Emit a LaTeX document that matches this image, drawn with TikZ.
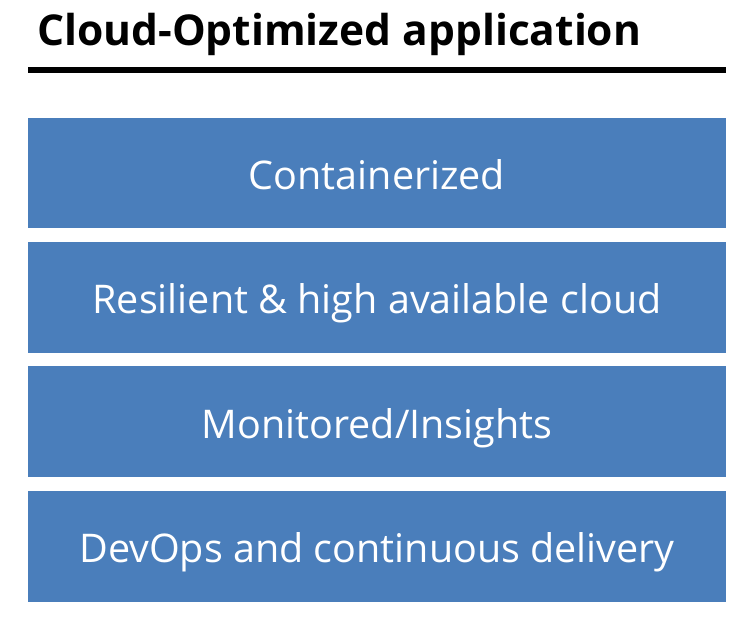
\documentclass[tikz,border=0pt]{standalone}
\usepackage{fontspec}
\setmainfont{Open Sans}
\definecolor{boxblue}{HTML}{4A7EBB}
\tikzset{
  layer/.style={fill=boxblue, draw=none},
  layertext/.style={text=white, font=\fontsize{39.5}{44}\selectfont, inner sep=0pt},
  titletext/.style={font=\fontsize{42.5}{48}\selectfont\bfseries, inner sep=0pt, text=black}
}
\begin{document}
\begin{tikzpicture}[x=1pt,y=-1pt]
\useasboundingbox (0,0) rectangle (752,617);
\node[titletext, anchor=base west] (title) at (37,46) {Cloud-Optimized application};
\coordinate (rl) at (28,70);
\coordinate (rr) at (726,70);
\draw[line width=6pt] (rl) -- (rr);
\fill[layer] (28,118) rectangle (726,228);
\fill[layer] (28,242) rectangle (726,353);
\fill[layer] (28,366) rectangle (726,477);
\fill[layer] (28,491) rectangle (726,602);
\node[layertext, anchor=base] (l1) at (377,190) {Containerized};
\node[layertext, anchor=base] (l2) at (377,314) {Resilient \& high available cloud};
\node[layertext, anchor=base] (l3) at (377,438) {Monitored/Insights};
\node[layertext, anchor=base] (l4) at (377,562) {DevOps and continuous delivery};
\end{tikzpicture}
\end{document}
